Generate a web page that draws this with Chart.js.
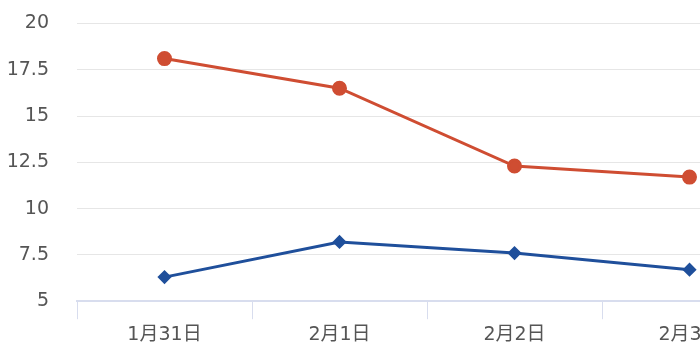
<!DOCTYPE html>
<html>
<head>
<meta charset="utf-8">
<script src="https://cdn.jsdelivr.net/npm/chart.js@4"></script>
<style>
  html, body { margin: 0; padding: 0; background: #fff; overflow: hidden; }
  #wrap { width: 700px; height: 350px; overflow: hidden; }
  #lineChart { display: block; margin-top: -16px; }
</style>
</head>
<body>
<div id="wrap"><canvas id="lineChart" width="800" height="366"></canvas></div>
<script>
const categories = ["1月31日", "2月1日", "2月2日", "2月3日"];
const redValues = [18.1, 16.5, 12.3, 11.7];
const blueValues = [6.3, 8.2, 7.6, 6.7];
const yTicks = [5, 7.5, 10, 12.5, 15, 17.5, 20];

document.addEventListener("DOMContentLoaded", function () {
    const ctx = document.getElementById("lineChart").getContext("2d");
    const labelFont = { family: "'DejaVu Sans', 'Noto Sans CJK SC', sans-serif", size: 19 };
    new Chart(ctx, {
        type: "line",
        data: {
            labels: categories,
            datasets: [
                {
                    data: redValues,
                    borderColor: "#cf4d32",
                    backgroundColor: "#cf4d32",
                    borderWidth: 3,
                    pointStyle: "circle",
                    pointRadius: 6,
                    tension: 0,
                },
                {
                    data: blueValues,
                    borderColor: "#1f4f9b",
                    backgroundColor: "#1f4f9b",
                    borderWidth: 3,
                    pointStyle: "rectRot",
                    pointRadius: 5,
                    tension: 0,
                },
            ],
        },
        options: {
            responsive: false,
            animation: false,
            layout: { autoPadding: false, padding: { left: 0, right: 23, top: 0, bottom: 0 } },
            plugins: {
                legend: { display: false },
                tooltip: { enabled: false },
            },
            scales: {
                x: {
                    offset: true,
                    grid: {
                        offset: true,
                        drawOnChartArea: false,
                        drawTicks: true,
                        tickLength: 18,
                        color: "#d8ddee",
                    },
                    border: { color: "#d8ddee", width: 2 },
                    ticks: {
                        color: "#555",
                        padding: 4,
                        font: labelFont,
                    },
                },
                y: {
                    min: 5,
                    max: 20,
                    afterBuildTicks: function (scale) {
                        scale.ticks = yTicks.map(function (v) { return { value: v }; });
                    },
                    afterFit: function (scale) {
                        scale.width = 77;
                    },
                    grid: { color: "#e6e6e6", drawTicks: false },
                    border: { display: false },
                    ticks: {
                        color: "#555",
                        padding: 28,
                        font: labelFont,
                    },
                },
            },
        },
    });
});
</script>
</body>
</html>
